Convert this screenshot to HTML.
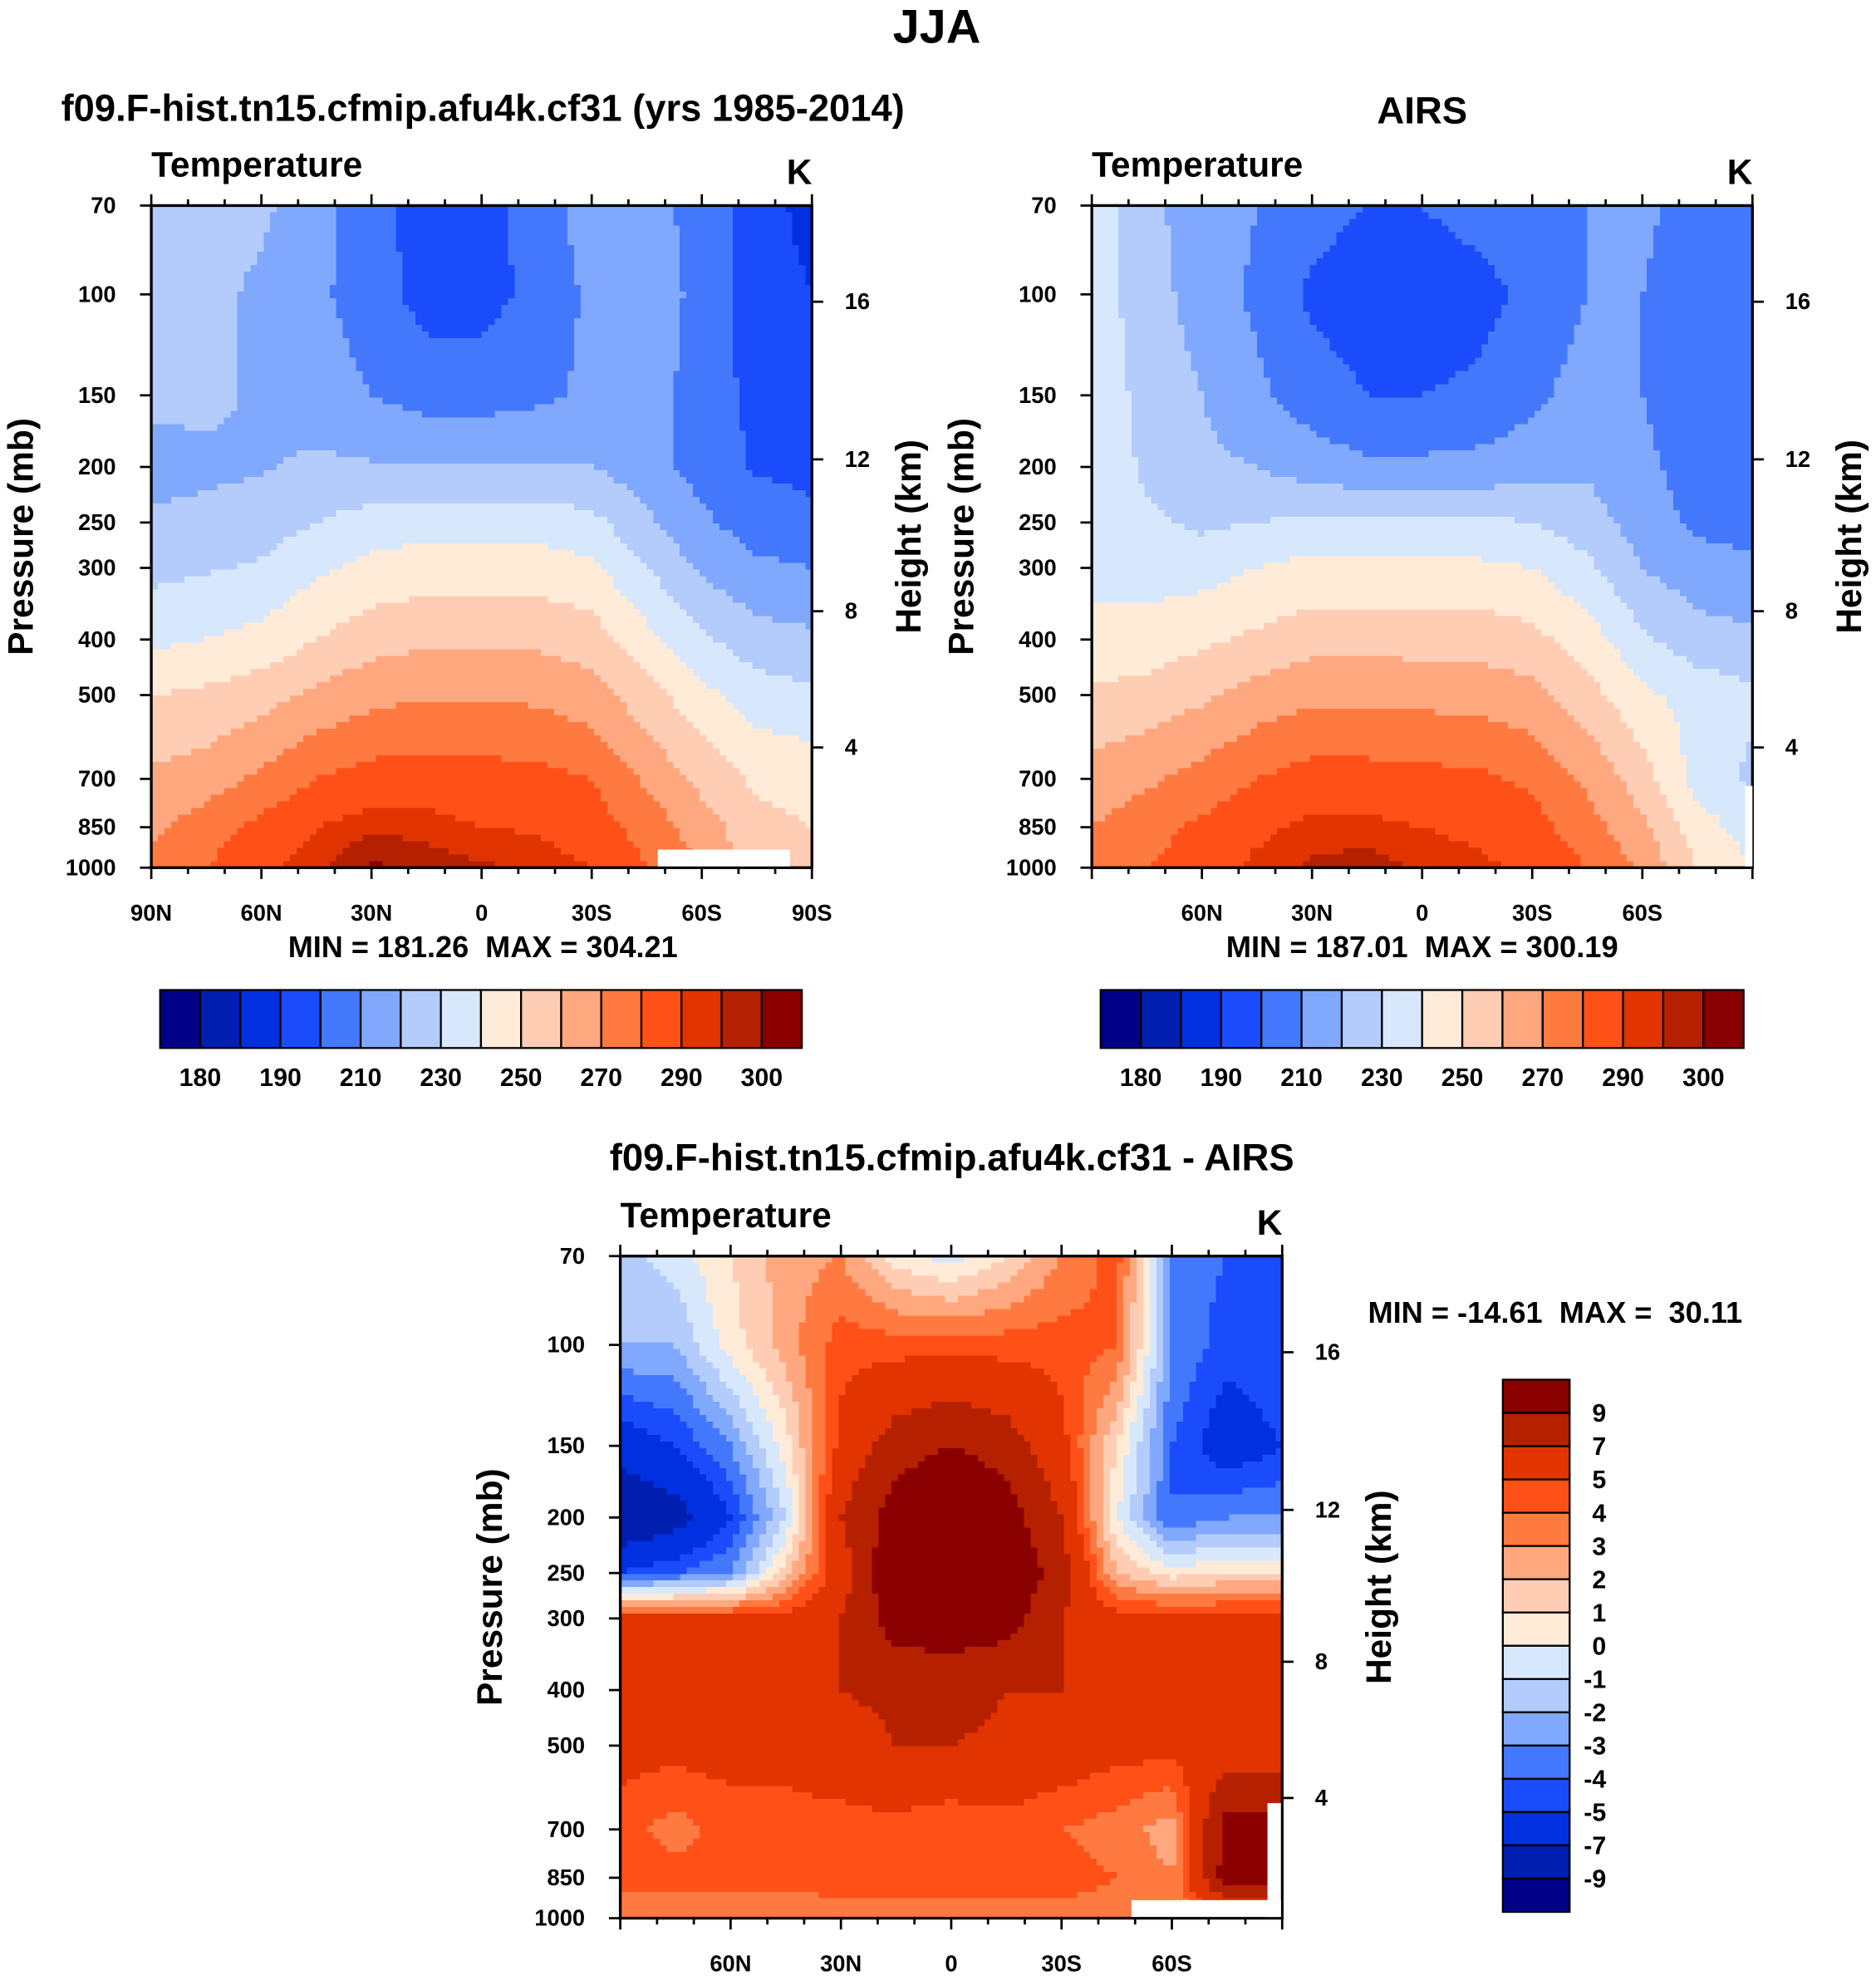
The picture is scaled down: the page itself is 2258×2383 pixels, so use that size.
<!DOCTYPE html>
<html><head><meta charset="utf-8"><style>
html,body{margin:0;padding:0;background:#fff}
svg{display:block}
text{font-family:"Liberation Sans",sans-serif;font-weight:bold;fill:#000}
</style></head><body>
<svg id="fig" xmlns="http://www.w3.org/2000/svg" width="2258" height="2383" viewBox="0 0 1488 1570" preserveAspectRatio="none">
<rect x="0" y="0" width="1488" height="1570" fill="#fff"/>
<text x="743" y="34" text-anchor="middle" font-size="38">JJA</text>
<text x="383" y="96" text-anchor="middle" font-size="30" textLength="669" lengthAdjust="spacingAndGlyphs">f09.F-hist.tn15.cfmip.afu4k.cf31 (yrs 1985-2014)</text>
<text x="1128" y="98" text-anchor="middle" font-size="30">AIRS</text>
<text x="755" y="928" text-anchor="middle" font-size="30" textLength="543" lengthAdjust="spacingAndGlyphs">f09.F-hist.tn15.cfmip.afu4k.cf31 - AIRS</text>
<text x="383" y="759" text-anchor="middle" font-size="24" textLength="309" lengthAdjust="spacingAndGlyphs" xml:space="preserve">MIN = 181.26  MAX = 304.21</text>
<text x="1128" y="759" text-anchor="middle" font-size="24" textLength="311" lengthAdjust="spacingAndGlyphs" xml:space="preserve">MIN = 187.01  MAX = 300.19</text>
<text x="1085" y="1049" font-size="24" textLength="297" lengthAdjust="spacingAndGlyphs" xml:space="preserve">MIN = -14.61  MAX =  30.11</text>
<g id="layer"></g>
</svg>
<script>
const lats=[90,75,60,45,30,15,0,-15,-30,-45,-60,-75,-90];
const pres=[70,100,150,200,250,300,400,500,700,850,1000];
const modelT=[
[225,224,222,214,204,195,195,205,215,215,205,195,186],
[224,223,218,212,205,196,196,203,212,218,206,196,190],
[224,223,218,215,210,206,206,208,212,215,205,197,194],
[214,217,219,222,221,220,220,220,220,214,206,199,197],
[223,224,226,230,234,236,236,236,233,222,212,205,203],
[227,229,231,238,243,245,245,245,242,230,218,212,210],
[238,240,243,250,256,258,258,258,255,243,232,224,222],
[250,252,256,262,267,269,269,268,264,254,243,235,232],
[262,265,272,280,284,285,284,283,280,268,257,248,246],
[268,275,283,290,294,293,290,289,285,276,265,253,250],
[272,280,288,294,301,298,296,294,290,280,270,255,250]];
const airsT=[
[236,222,216,210,204,200,200,204,208,210,212,206,202],
[236,224,216,208,198,194,194,196,203,210,210,205,203],
[238,226,220,212,205,200,200,202,208,214,210,205,203],
[238,228,222,220,215,212,212,213,215,218,212,206,204],
[238,232,228,230,232,232,232,232,230,225,215,208,206],
[238,236,236,240,243,242,242,242,240,232,220,214,212],
[242,244,248,252,256,256,256,256,253,245,232,224,222],
[252,254,258,264,268,268,267,266,263,254,242,236,232],
[264,268,274,280,284,284,283,282,278,268,255,236,228],
[270,276,282,288,292,292,290,288,284,274,262,245,235],
[274,280,286,292,296,298,294,292,288,280,268,250,240]];
const diffT=[
[-1.5,-0.5,1,2.5,3,0.5,-0.5,1,3,4.5,-3.5,-4,-5],
[-2,-2,0.5,2.5,4.5,4.5,4.5,4.5,4.5,4,-3,-4.5,-4],
[-6,-5,-3,0.5,5.5,8,9,8,5.5,1,-4,-6,-5],
[-9,-8,-5,-1,7,10,12,10,7,0,-4,-3,-3],
[-5,-4,-3,1.5,6,11,10,11,8,2,0.5,1,1],
[5.5,5.5,5.5,5.5,7,10,10,10,7,5.5,5.5,5.5,5.5],
[6,5.5,5.5,6,7,7.5,8,7,7,5.5,5.5,5.5,5.5],
[5.5,5.5,5.5,5.5,6,7,7,6.5,6,5.5,5.5,5.5,5.5],
[4.5,3.5,4.5,4.5,4.5,4.5,4,4.5,4,3.5,2.5,10,10],
[4.5,4.5,4.5,4.5,4.5,4.5,4.5,4.5,4.5,4,3,10,10],
[3,3,3,3,3.5,3.5,3.5,3.5,3.5,3.5,3,4,4]];
const tempLevels=[180,185,190,200,210,220,230,240,250,260,270,280,290,295,300];
const tempLabels=["180","190","210","230","250","270","290","300"];
const diffLevels=[-9,-7,-5,-4,-3,-2,-1,0,1,2,3,4,5,7,9];
const diffLabels=["-9","-7","-5","-4","-3","-2","-1","0","1","2","3","4","5","7","9"];
const colors=["#000088","#001eb0","#0030e0","#1a4cfc","#4478fc","#80a8fc","#b4ccfc","#d8e8fc","#ffebd8","#ffcdb4","#ffa880","#ff7a40","#ff5018","#e23400","#b52000","#8a0000"];
const presTicks=[70,100,150,200,250,300,400,500,700,850,1000];
const kmTicks=[4,8,12,16];
const kmPres=[617,357,194,103];
const latTicks=[90,60,30,0,-30,-60,-90];

const NS="http://www.w3.org/2000/svg";
const layer=document.getElementById('layer');
function mk(tag,attrs,parent){const e=document.createElementNS(NS,tag);for(const k in attrs)e.setAttribute(k,attrs[k]);(parent||layer).appendChild(e);return e;}
function latLabel(l){return l===0?"0":(Math.abs(l)+(l>0?"N":"S"));}

function panel(name,field,levels,box,showEnds){
  const {x0,y0,x1,y1}=box;
  const g=mk('g',{});
  
  
  const xOf=l=>x0+(x1-x0)*(90-l)/180;
  const L=Math.log(1000/70);
  const yOf=p=>y0+(y1-y0)*Math.log(p/70)/L;
  const NX=100,NY=100;
  const cells=mk('g',{'shape-rendering':'crispEdges'},g);
  
  
  function val(fx,fy){
    const i=Math.min(Math.floor(fx),lats.length-2),j=Math.min(Math.floor(fy),pres.length-2);
    const tx=fx-i,ty=fy-j;
    return field[j][i]*(1-tx)*(1-ty)+field[j][i+1]*tx*(1-ty)+field[j+1][i]*(1-tx)*ty+field[j+1][i+1]*tx*ty;
  }
  const lp=pres.map(p=>Math.log(p));
  for(let a=0;a<NY;a++){
    const ya=y0+(y1-y0)*a/NY, yb=y0+(y1-y0)*(a+1)/NY;
    const pm=Math.log(70)+L*(a+0.5)/NY;
    let j=0;while(j<pres.length-2&&pm>lp[j+1])j++;
    const fy=j+(pm-lp[j])/(lp[j+1]-lp[j]);
    for(let b=0;b<NX;b++){
      const xa=x0+(x1-x0)*b/NX, xb=x0+(x1-x0)*(b+1)/NX;
      const latm=90-180*(b+0.5)/NX;
      const fx=(90-latm)/15;
      const v=val(fx,fy);
      let c=0;while(c<levels.length&&v>=levels[c])c++;
      const r=mk('rect',{x:xa.toFixed(2),y:ya.toFixed(2),width:(xb-xa+0.6).toFixed(2),height:(yb-ya+0.6).toFixed(2),fill:colors[c]},cells);
      
      
    }
  }
  const fr=mk('rect',{x:x0,y:y0,width:x1-x0,height:y1-y0,fill:'none',stroke:'#000','stroke-width':2.2},g);
  
  
  for(let l=90;l>=-90;l-=10){
    const major=l%30===0, x=xOf(l), t=major?9:5;
    mk('line',{x1:x,x2:x,y1:y0,y2:y0-t,stroke:'#000','stroke-width':1.8},g);
    mk('line',{x1:x,x2:x,y1:y1,y2:y1+t,stroke:'#000','stroke-width':1.8},g);
  }
  latTicks.forEach(l=>{
    if(!showEnds&&Math.abs(l)===90)return;
    const t=mk('text',{x:xOf(l),y:y1+42,'text-anchor':'middle','font-size':18},g);
    
    
    t.textContent=latLabel(l);
  });
  presTicks.forEach(p=>{
    const y=yOf(p);
    mk('line',{x1:x0,x2:x0-9,y1:y,y2:y,stroke:'#000','stroke-width':1.8},g);
    const t=mk('text',{x:x0-28,y:y+6,'text-anchor':'end','font-size':18},g);
    
    
    t.textContent=p;
  });
  kmTicks.forEach((k,i)=>{
    const y=yOf(kmPres[i]);
    mk('line',{x1:x1,x2:x1+9,y1:y,y2:y,stroke:'#000','stroke-width':1.8},g);
    const t=mk('text',{x:x1+26,y:y+6,'font-size':18},g);
    
    
    t.textContent=k;
  });
  const tt=mk('text',{x:x0,y:y0-23,'font-size':28},g);
  
  
  tt.textContent='Temperature';
  const uk=mk('text',{x:x1-10,y:y0-17,'text-anchor':'middle','font-size':28},g);
  
  
  uk.textContent='K';
  const yc=(y0+y1)/2;
  const pt=mk('text',{x:0,y:0,'text-anchor':'middle','font-size':28,transform:`translate(${x0-94},${yc}) rotate(-90)`},g);
  
  
  pt.textContent='Pressure (mb)';
  const ht=mk('text',{x:0,y:0,'text-anchor':'middle','font-size':28,transform:`translate(${x1+86},${yc}) rotate(-90)`},g);
  
  
  ht.textContent='Height (km)';
  return {xOf,yOf,g};
}

function hbar(name,x0,y0,w,h){
  const g=mk('g',{});
  
  
  const bw=w/colors.length;
  colors.forEach((c,i)=>{
    const r=mk('rect',{x:x0+i*bw,y:y0,width:bw,height:h,fill:c,stroke:'#000','stroke-width':1.5},g);
    
    
  });
  tempLabels.forEach((s,k)=>{
    const t=mk('text',{x:x0+(2*k+1)*bw,y:y0+h+30,'text-anchor':'middle','font-size':20},g);
    
    
    t.textContent=s;
  });
}
function vbar(name,x0,y0,w,h){
  const g=mk('g',{});
  
  
  const bh=h/colors.length;
  colors.slice().reverse().forEach((c,i)=>{
    const r=mk('rect',{x:x0,y:y0+i*bh,width:w,height:bh,fill:c,stroke:'#000','stroke-width':1.5},g);
    
    
  });
  diffLabels.slice().reverse().forEach((s,k)=>{
    const t=mk('text',{x:x0+w+29,y:y0+(k+1)*bh+7,'text-anchor':'end','font-size':20},g);
    
    
    t.textContent=s;
  });
}

const p1=panel('model-panel',modelT,tempLevels,{x0:120,y0:163,x1:644,y1:688},true);
const m1=mk('rect',{x:p1.xOf(-48),y:p1.yOf(930),width:p1.xOf(-84)-p1.xOf(-48),height:p1.yOf(1000)-p1.yOf(930)-1,fill:'#fff'},p1.g);


const p2=panel('airs-panel',airsT,tempLevels,{x0:866,y0:163,x1:1390,y1:688},false);
const m2=mk('rect',{x:p2.xOf(-88),y:p2.yOf(720),width:p2.xOf(-90)-p2.xOf(-88),height:p2.yOf(1000)-p2.yOf(720)-1,fill:'#fff'},p2.g);


const p3=panel('diff-panel',diffT,diffLevels,{x0:492,y0:996,x1:1017,y1:1521},false);
const m3=mk('rect',{x:p3.xOf(-49),y:p3.yOf(930),width:p3.xOf(-90)-p3.xOf(-49)-1,height:p3.yOf(1000)-p3.yOf(930)-1,fill:'#fff'},p3.g);


const m4=mk('rect',{x:p3.xOf(-86),y:p3.yOf(630),width:p3.xOf(-90)-p3.xOf(-86)-1,height:p3.yOf(1000)-p3.yOf(630)-1,fill:'#fff'},p3.g);


hbar('model-colorbar',127,785,509,46);
hbar('airs-colorbar',873,785,510,46);
vbar('diff-colorbar',1192,1094,53,422);
</script>
</body></html>
